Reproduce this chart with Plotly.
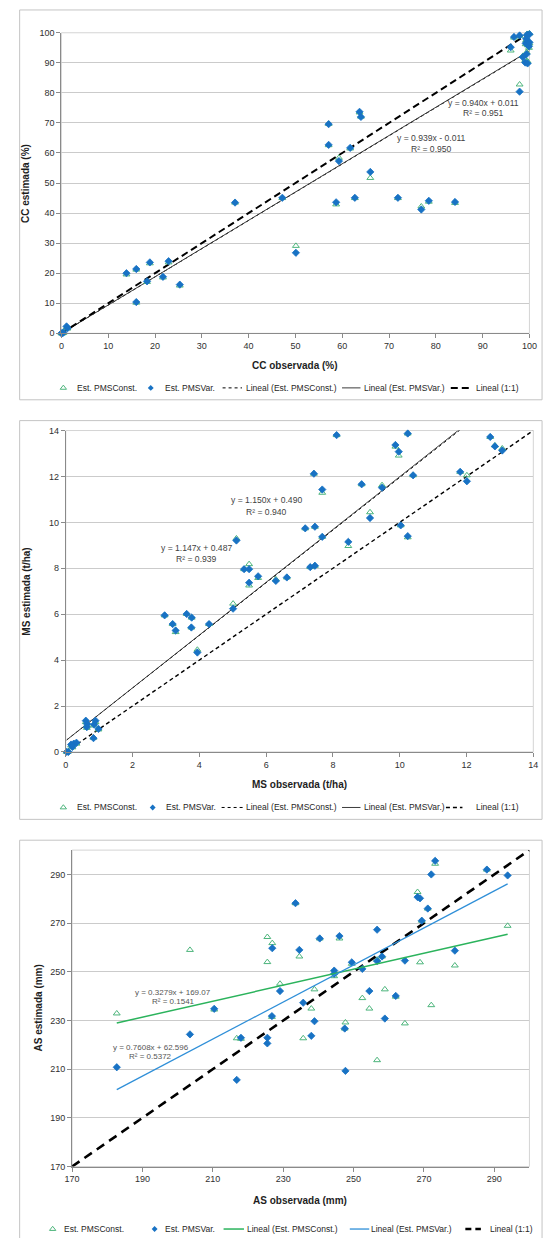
import plotly.graph_objects as go

# ---------------- data ----------------
# Panel 1: canopy cover (%)
cc_obs = [0.0, 0.2, 0.4, 1.1, 1.3, 13.9, 16.0, 16.0, 18.3, 18.9, 21.7, 22.9, 25.3, 37.1, 47.2,
          50.1, 57.1, 57.1, 58.7, 59.3, 61.7, 62.7, 63.7, 64.0, 66.0, 71.9, 76.9, 78.5, 84.1,
          96.0, 96.7, 97.9, 97.9, 98.6, 99.1, 99.2, 99.4, 99.5, 99.6, 99.7, 99.8, 99.9, 100.0,
          100.0, 99.3]
cc_var = [0.0, 0.1, 0.2, 2.3, 1.7, 20.0, 21.4, 10.4, 17.3, 23.6, 18.8, 24.0, 16.2, 43.5, 45.1,
          26.8, 69.6, 62.7, 43.6, 57.3, 61.7, 45.1, 73.7, 72.0, 53.7, 45.1, 41.2, 44.1, 43.7,
          95.2, 98.6, 99.1, 80.4, 91.9, 90.1, 96.5, 92.9, 99.3, 89.8, 96.0, 97.0, 95.5, 99.5,
          96.8, 98.0]
cc_const = [0.0, 0.0, 0.1, 2.0, 1.6, 19.6, 21.2, 10.2, 17.1, 23.3, 18.6, 23.6, 15.9, 43.5, 45.0,
            29.1, 69.7, 62.6, 42.9, 58.4, 61.5, 45.0, 73.5, 72.1, 51.7, 45.0, 42.2, 43.8, 43.4,
            94.1, 98.4, 99.0, 82.8, 92.3, 91.0, 96.2, 93.5, 99.6, 90.5, 95.8, 97.2, 95.0, 99.8,
            96.5, 97.6]
cc_fit_const = [0.939, -0.011, 0.950]   # slope, intercept, R²
cc_fit_var = [0.940, 0.011, 0.951]
cc_ticks = [0, 10, 20, 30, 40, 50, 60, 70, 80, 90, 100]

# Panel 2: dry matter (t/ha)
ms_obs = [8.11, 10.24, 12.71, 12.85, 13.07, 9.87, 9.97, 7.43, 10.40, 11.81, 12.01, 8.86, 9.47,
          7.68, 9.11, 10.03, 10.24, 8.46, 7.17, 7.46, 7.68, 5.11, 7.32, 7.46, 5.34, 5.49, 5.49,
          5.76, 6.29, 6.62, 5.01, 2.96, 3.62, 3.77, 3.20, 3.29, 3.76, 4.29, 3.94, 0.60, 0.64,
          0.63, 0.89, 0.85, 0.98, 0.83, 0.16, 0.24, 0.32, 0.20, 0.03, 0.08]
ms_var = [13.80, 13.87, 13.72, 13.31, 13.13, 13.37, 13.08, 12.12, 12.05, 12.20, 11.79, 11.66,
          11.51, 11.43, 10.19, 9.87, 9.40, 9.15, 9.74, 9.81, 9.37, 9.21, 8.05, 8.11, 7.96, 7.96,
          7.37, 7.65, 7.45, 7.60, 6.24, 5.95, 6.01, 5.85, 5.57, 5.29, 5.42, 5.57, 4.33, 1.36,
          1.22, 1.08, 1.36, 1.19, 1.00, 0.60, 0.32, 0.36, 0.40, 0.22, 0.00, 0.00]
ms_const = [13.80, 13.87, 13.72, 13.35, 13.22, 13.30, 12.91, 12.12, 12.05, 12.20, 12.05, 11.66,
            11.62, 11.29, 10.44, 9.87, 9.35, 8.97, 9.74, 9.81, 9.37, 9.30, 8.05, 8.11, 7.96, 8.18,
            7.25, 7.58, 7.52, 7.60, 6.46, 5.95, 6.01, 5.85, 5.57, 5.22, 5.42, 5.57, 4.45, 1.30,
            1.18, 1.05, 1.30, 1.15, 0.98, 0.62, 0.28, 0.33, 0.36, 0.20, 0.00, 0.02]
ms_fit_const = [1.147, 0.487, 0.939]
ms_fit_var = [1.150, 0.490, 0.940]
ms_ticks = [0, 2, 4, 6, 8, 10, 12, 14]

# Panel 3: stored water (mm)
as_obs = [182.7, 203.5, 210.4, 216.8, 218.0, 225.5, 225.5, 226.8, 226.9, 229.1, 233.5, 234.6,
          235.7, 238.0, 238.9, 240.4, 244.5, 244.5, 246.0, 247.5, 247.7, 249.5, 252.5, 254.5,
          256.7, 256.7, 258.1, 258.9, 262.0, 264.6, 268.2, 268.9, 269.4, 271.1, 272.1, 273.2,
          278.8, 287.9, 293.8]
as_var = [210.8, 224.3, 234.8, 205.6, 222.9, 222.9, 220.6, 231.8, 259.7, 242.1, 278.2, 259.0,
          237.3, 223.7, 229.7, 263.7, 250.5, 249.2, 264.7, 226.7, 209.3, 253.9, 251.2, 242.1,
          267.3, 254.4, 256.3, 230.8, 240.1, 254.6, 280.7, 280.2, 271.0, 276.0, 290.0, 295.6,
          258.7, 292.0, 289.6]
as_const = [232.9, 259.0, 234.5, 222.7, 222.5, 264.3, 254.0, 231.5, 261.8, 245.1, 278.2, 256.3,
            222.7, 234.9, 242.8, 263.7, 248.2, 249.5, 263.7, 226.7, 229.2, 253.3, 239.2, 234.9,
            213.7, 255.0, 256.3, 242.8, 239.8, 228.8, 282.8, 253.9, 271.0, 276.0, 236.3, 294.4,
            252.6, 292.0, 268.9]
as_fit_const = [0.3279, 169.07, 0.1541]
as_fit_var = [0.7608, 62.596, 0.5372]
as_ticks = [170, 190, 210, 230, 250, 270, 290]

# ---------------- page geometry ----------------
W, H = 552, 1238
FONT = "Liberation Sans, Arial, sans-serif"
TXT = "#303030"
GRID = "#cbcbcb"
AXIS = "#8a8a8a"
FRAME = "#c4c4c4"
TRI_COL = "#4db57c"
DIA_COL = "#1872c4"
TRI_SIZE = 6
DIA_SIZE = 5.6


def xdom(a, b):
    return [a / W, b / W]


def ydom(top, bottom):
    return [1 - bottom / H, 1 - top / H]


def px(x):
    return x / W


def py(y):
    return 1 - y / H


fig = go.Figure()


def scatter_pair(obs, const, var, xa, ya):
    fig.add_trace(go.Scatter(x=obs, y=const, mode="markers", xaxis=xa, yaxis=ya,
                             cliponaxis=False, showlegend=False,
                             marker=dict(symbol="triangle-up-open", size=TRI_SIZE, color=TRI_COL,
                                         line=dict(width=1, color=TRI_COL))))
    fig.add_trace(go.Scatter(x=obs, y=var, mode="markers", xaxis=xa, yaxis=ya,
                             cliponaxis=False, showlegend=False,
                             marker=dict(symbol="diamond", size=DIA_SIZE, color=DIA_COL,
                                         line=dict(width=0.8, color=DIA_COL))))


def trend(obs, fit, xa, ya, line):
    xs = [min(obs), max(obs)]
    ys = [fit[0] * v + fit[1] for v in xs]
    fig.add_trace(go.Scatter(x=xs, y=ys, mode="lines", xaxis=xa, yaxis=ya,
                             showlegend=False, line=line))


def identity(ends, xa, ya, line):
    fig.add_trace(go.Scatter(x=ends, y=ends, mode="lines", xaxis=xa, yaxis=ya,
                             showlegend=False, line=line))


# Panel 1
trend(cc_obs, cc_fit_const, "x", "y", dict(color="#000000", width=1, dash="dot"))
trend(cc_obs, cc_fit_var, "x", "y", dict(color="#3c3c3c", width=1))
identity([cc_ticks[0], cc_ticks[-1]], "x", "y", dict(color="#000000", width=2, dash="7px,4px"))
scatter_pair(cc_obs, cc_const, cc_var, "x", "y")

# Panel 2
trend(ms_obs, ms_fit_const, "x2", "y2", dict(color="#000000", width=1, dash="dot"))
trend(ms_obs, ms_fit_var, "x2", "y2", dict(color="#3c3c3c", width=1))
identity([ms_ticks[0], ms_ticks[-1]], "x2", "y2", dict(color="#000000", width=1.4, dash="4px,3px"))
scatter_pair(ms_obs, ms_const, ms_var, "x2", "y2")

# Panel 3
identity([170, 300], "x3", "y3", dict(color="#000000", width=2.6, dash="9px,6px"))
scatter_pair(as_obs, as_const, as_var, "x3", "y3")
trend(as_obs, as_fit_const, "x3", "y3", dict(color="#2bb35c", width=1.5))
trend(as_obs, as_fit_var, "x3", "y3", dict(color="#2f8fd8", width=1.3))

# ---------------- axes ----------------
tickfont = dict(family=FONT, size=9, color=TXT)


def axis_style(domain, rng, ticks):
    return dict(domain=domain, range=rng, tickvals=ticks, showgrid=False, zeroline=False,
                showline=True, linecolor=AXIS, linewidth=1, ticks="outside", ticklen=4,
                tickcolor=AXIS, tickfont=tickfont, fixedrange=True)


def yaxis_style(domain, rng, ticks, xa):
    d = axis_style(domain, rng, ticks)
    d.update(showgrid=True, gridcolor=GRID, gridwidth=1.3, anchor=xa)
    return d


fig.update_layout(
    xaxis=dict(axis_style(xdom(55, 537), [0, 100], cc_ticks), anchor="y"),
    yaxis=yaxis_style(ydom(28, 331), [0, 100], cc_ticks, "x"),
    xaxis2=dict(axis_style(xdom(59.5, 541), [0, 14], ms_ticks), anchor="y2"),
    yaxis2=yaxis_style(ydom(429, 753), [0, 14], ms_ticks, "x2"),
    xaxis3=dict(axis_style(xdom(66, 537), [170, 300], as_ticks), anchor="y3"),
    yaxis3=yaxis_style(ydom(852, 1171), [170, 300], as_ticks, "x3"),
    # full-page overlay used for the legend glyphs, in pixel units
    xaxis4=dict(domain=[0, 1], range=[0, W], visible=False, fixedrange=True),
    yaxis4=dict(domain=[0, 1], range=[H, 0], visible=False, fixedrange=True, anchor="x4"),
)

shapes = []
# chart frames
for top, bottom in [(5, 398), (419, 821), (842, 1250)]:
    shapes.append(dict(type="rect", xref="paper", yref="paper", x0=px(12), x1=px(550),
                       y0=py(bottom), y1=py(top), line=dict(color=FRAME, width=1),
                       layer="below"))
# plot-area borders (right and top edges)
for xa, ya in [("x", "y"), ("x2", "y2"), ("x3", "y3")]:
    shapes.append(dict(type="rect", xref=xa + " domain", yref=ya + " domain", x0=0, x1=1,
                       y0=0, y1=1, line=dict(color="#d4d4d4", width=1), layer="below"))

annotations = []


def note(text, x, y, xa, ya, size=8.6, color="#3f3f3f"):
    annotations.append(dict(text=text, x=x, y=y, xref=xa, yref=ya, showarrow=False,
                            font=dict(family=FONT, size=size, color=color),
                            xanchor="center", yanchor="middle"))


# regression labels
note("y = %.3fx + %.3f" % (cc_fit_var[0], cc_fit_var[1]), 90.2, 76.8, "x", "y")
note("R² = %.3f" % cc_fit_var[2], 90.2, 73.2, "x", "y")
note("y = %.3fx - %.3f" % (cc_fit_const[0], abs(cc_fit_const[1])), 79.1, 65.0, "x", "y")
note("R² = %.3f" % cc_fit_const[2], 79.1, 61.4, "x", "y")

note("y = %.3fx + %.3f" % (ms_fit_var[0], ms_fit_var[1]), 6.0, 10.98, "x2", "y2")
note("R² = %.3f" % ms_fit_var[2], 6.0, 10.47, "x2", "y2")
note("y = %.3fx + %.3f" % (ms_fit_const[0], ms_fit_const[1]), 3.91, 8.9, "x2", "y2")
note("R² = %.3f" % ms_fit_const[2], 3.91, 8.42, "x2", "y2")

note("y = %.4fx + %.2f" % (as_fit_const[0], as_fit_const[1]), 198.7, 241.3, "x3", "y3", 8, "#555555")
note("R² = %.4f" % as_fit_const[2], 198.7, 237.6, "x3", "y3", 8, "#555555")
note("y = %.4fx + %.3f" % (as_fit_var[0], as_fit_var[1]), 192.4, 218.8, "x3", "y3", 8, "#555555")
note("R² = %.4f" % as_fit_var[2], 192.4, 215.3, "x3", "y3", 8, "#555555")

# axis titles
title_font = dict(family=FONT, size=10, color="#1e1e1e")
for text, x, y, ang in [("<b>CC observada (%)</b>", 296, 363, 0),
                        ("<b>CC estimada (%)</b>", 18, 180, -90),
                        ("<b>MS observada (t/ha)</b>", 300, 786, 0),
                        ("<b>MS estimada (t/ha)</b>", 19, 591, -90),
                        ("<b>AS observada (mm)</b>", 301, 1205.5, 0),
                        ("<b>AS estimada (mm)</b>", 31.5, 1011, -90)]:
    annotations.append(dict(text=text, x=px(x), y=py(y), xref="paper", yref="paper",
                            showarrow=False, font=title_font, textangle=ang,
                            xanchor="center", yanchor="middle"))

# ---------------- legends ----------------
leg_font = dict(family=FONT, size=8.5, color="#262626")
legends = [
    (386, [("tri", 57, None, 69, "Est. PMSConst."),
           ("dia", 147, None, 160, "Est. PMSVar."),
           ("line", 221, 241, 243, "Lineal (Est. PMSConst.)",
            dict(color="#000000", width=1, dash="dot")),
           ("line", 344, 363, 365, "Lineal (Est. PMSVar.)", dict(color="#3c3c3c", width=1)),
           ("line", 456, 475, 480, "Lineal (1:1)",
            dict(color="#000000", width=2, dash="7px,4px"))]),
    (809, [("tri", 57, None, 69, "Est. PMSConst."),
           ("dia", 149, None, 161, "Est. PMSVar."),
           ("line", 220, 242, 243, "Lineal (Est. PMSConst.)",
            dict(color="#000000", width=1, dash="dot")),
           ("line", 344, 363, 365, "Lineal (Est. PMSVar.)", dict(color="#3c3c3c", width=1)),
           ("line", 451, 468, 480, "Lineal (1:1)",
            dict(color="#000000", width=1.4, dash="4px,3px"))]),
    (1234, [("tri", 46, None, 56, "Est. PMSConst."),
            ("dia", 151, None, 160, "Est. PMSVar."),
            ("line", 222, 243, 244, "Lineal (Est. PMSConst.)", dict(color="#2bb35c", width=1.5)),
            ("line", 352, 372, 372, "Lineal (Est. PMSVar.)", dict(color="#2f8fd8", width=1.3)),
            ("line", 471, 487, 494, "Lineal (1:1)",
             dict(color="#000000", width=2.4, dash="6px,4px"))]),
]
for yy, items in legends:
    for item in items:
        kind, a, b, tx, label = item[:5]
        if kind == "tri":
            fig.add_trace(go.Scatter(x=[a], y=[yy], mode="markers", xaxis="x4", yaxis="y4",
                                     showlegend=False, cliponaxis=False,
                                     marker=dict(symbol="triangle-up-open", size=5.5,
                                                 color=TRI_COL, line=dict(width=1, color=TRI_COL))))
        elif kind == "dia":
            fig.add_trace(go.Scatter(x=[a], y=[yy], mode="markers", xaxis="x4", yaxis="y4",
                                     showlegend=False, cliponaxis=False,
                                     marker=dict(symbol="diamond", size=4.5, color=DIA_COL)))
        else:
            fig.add_trace(go.Scatter(x=[a, b], y=[yy, yy], mode="lines", xaxis="x4", yaxis="y4",
                                     showlegend=False, line=item[5]))
        annotations.append(dict(text=label, x=px(tx), y=py(yy), xref="paper", yref="paper",
                                showarrow=False, font=leg_font, xanchor="left",
                                yanchor="middle"))

fig.update_layout(
    width=W, height=H, margin=dict(l=0, r=0, t=0, b=0),
    paper_bgcolor="#ffffff", plot_bgcolor="rgba(0,0,0,0)",
    showlegend=False, shapes=shapes, annotations=annotations,
    font=dict(family=FONT),
)

fig.write_html("out.html")
